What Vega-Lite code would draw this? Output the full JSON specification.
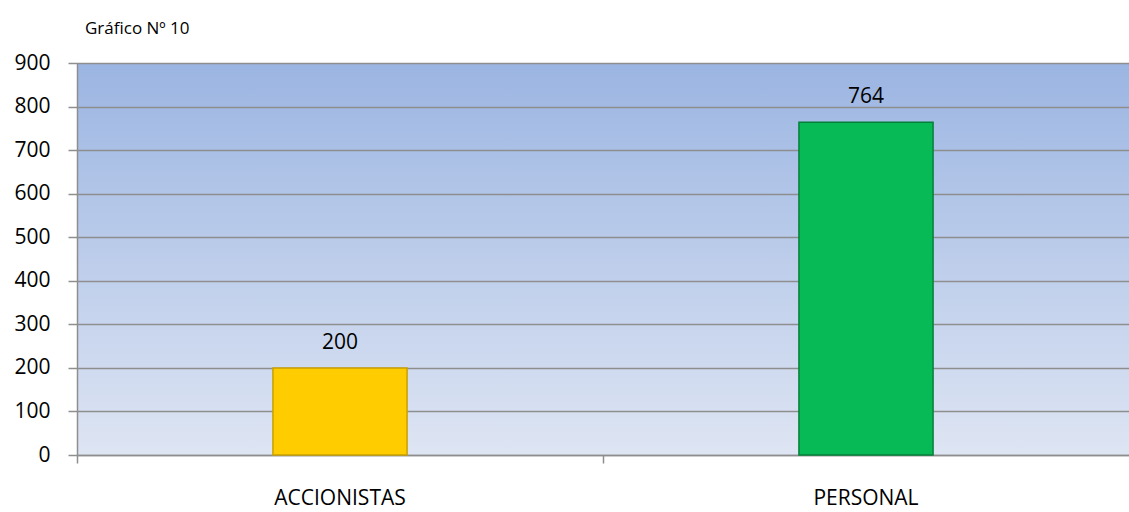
{
  "$schema": "https://vega.github.io/schema/vega-lite/v6.json",
  "autosize": {"type": "none"},
  "padding": {"left": 77, "top": 63, "right": 0, "bottom": 57},
  "width": 1052,
  "height": 392,
  "background": "white",
  "title": {
    "text": "Gráfico Nº 10",
    "anchor": "start",
    "frame": "group",
    "dx": 8,
    "offset": 14,
    "font": "Open Sans",
    "fontSize": 17,
    "fontWeight": "normal",
    "color": "#000000"
  },
  "config": {
    "view": {
      "stroke": null,
      "fill": {
        "gradient": "linear",
        "x1": 0, "y1": 0, "x2": 0, "y2": 1,
        "stops": [
          {"offset": 0, "color": "#9BB5E2"},
          {"offset": 1, "color": "#DEE5F3"}
        ]
      }
    },
    "font": "Open Sans"
  },
  "data": {
    "values": [
      {"categoria": "ACCIONISTAS", "valor": 200},
      {"categoria": "PERSONAL", "valor": 764}
    ]
  },
  "resolve": {"axis": {"x": "independent"}},
  "layer": [
    {
      "mark": {"type": "bar", "strokeWidth": 1.5, "width": {"band": 0.255}},
      "encoding": {
        "x": {
          "field": "categoria",
          "type": "nominal",
          "sort": null,
          "scale": {"paddingInner": 0, "paddingOuter": 0},
          "axis": {
            "orient": "bottom",
            "title": null,
            "labels": false,
            "bandPosition": 0,
            "ticks": true,
            "tickSize": 8,
            "tickColor": "#8E8E8E",
            "tickWidth": 1.5,
            "domain": true,
            "domainColor": "#8E8E8E",
            "domainWidth": 1.5,
            "grid": false
          }
        },
        "y": {
          "field": "valor",
          "type": "quantitative",
          "scale": {"domain": [0, 900], "nice": false},
          "axis": {
            "title": null,
            "values": [0, 100, 200, 300, 400, 500, 600, 700, 800, 900],
            "labelFontSize": 21,
            "labelColor": "#000000",
            "labelPadding": 18,
            "tickSize": 9,
            "tickColor": "#8E8E8E",
            "tickWidth": 1.5,
            "domainColor": "#8E8E8E",
            "domainWidth": 1.5,
            "grid": true,
            "gridColor": "#8E8E8E",
            "gridWidth": 1.5
          }
        },
        "fill": {
          "field": "categoria",
          "type": "nominal",
          "scale": {"domain": ["ACCIONISTAS", "PERSONAL"], "range": ["#FFCC00", "#08BA55"]},
          "legend": null
        },
        "stroke": {
          "field": "categoria",
          "type": "nominal",
          "scale": {"domain": ["ACCIONISTAS", "PERSONAL"], "range": ["#C9A000", "#05803A"]},
          "legend": null
        }
      }
    },
    {
      "mark": {"type": "text", "baseline": "alphabetic", "dy": -19, "fontSize": 21, "color": "#000000"},
      "encoding": {
        "x": {
          "field": "categoria",
          "type": "nominal",
          "sort": null,
          "axis": {
            "orient": "bottom",
            "title": null,
            "labelFontSize": 21,
            "labelColor": "#000000",
            "labelPadding": 32,
            "labelAngle": 0,
            "ticks": false,
            "domain": false,
            "grid": false
          }
        },
        "y": {"field": "valor", "type": "quantitative"},
        "text": {"field": "valor", "type": "quantitative"}
      }
    }
  ]
}
